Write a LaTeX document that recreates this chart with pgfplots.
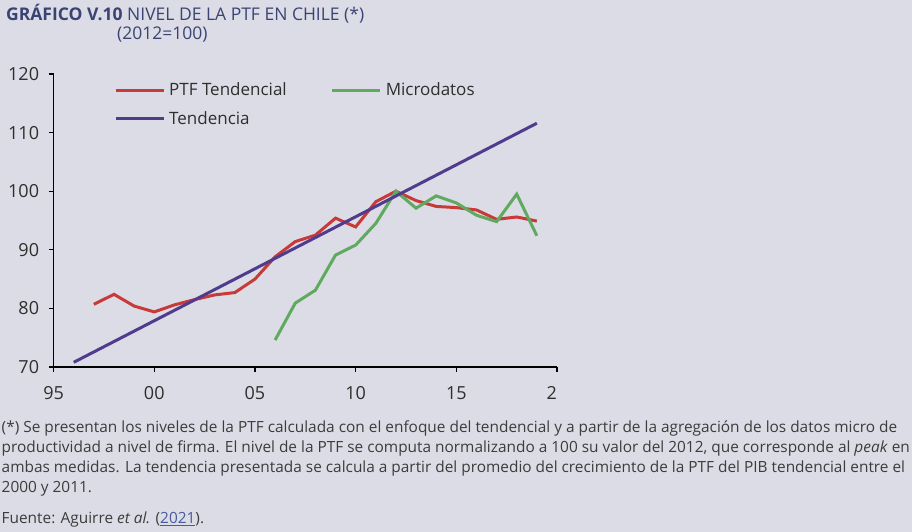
\documentclass[border=0pt]{standalone}
\usepackage{pgfplots}
\pgfplotsset{compat=1.18}
\usepackage{fontspec}
\setmainfont{Open Sans}

\definecolor{bg}{HTML}{DCDCE6}
\definecolor{ptfred}{HTML}{C83A3A}
\definecolor{microgreen}{HTML}{5FAA5F}
\definecolor{trendpurple}{HTML}{503C8C}
\definecolor{titleblue}{HTML}{3A4474}
\definecolor{textgray}{HTML}{2E2E2E}
\definecolor{notegray}{HTML}{3C3C3C}
\definecolor{linkblue}{HTML}{4A5A9C}

\newcommand{\ticksize}{\fontsize{18}{21}\selectfont}
\newcommand{\legsize}{\fontsize{17}{20}\selectfont}
\newcommand{\notesize}{\fontsize{15.4}{18}\selectfont}

\begin{document}
\begin{tikzpicture}
% page background and fixed frame
\fill[bg] (0pt,0pt) rectangle (912pt,-532pt);
\path[use as bounding box] (0pt,0pt) rectangle (912pt,-532pt);

% title
\node[anchor=base west, inner sep=0pt, text=titleblue] at (6pt,-20.3pt)
  {\fontsize{17.5}{20}\selectfont\textbf{GRÁFICO V.10} NIVEL DE LA PTF EN CHILE (*)};
\node[anchor=base west, inner sep=0pt, text=titleblue] at (117pt,-40pt)
  {\fontsize{17.5}{20}\selectfont (2012=100)};

\begin{axis}[
  at={(53.6pt,-367pt)}, anchor=south west,
  scale only axis, width=503.4pt, height=293pt,
  xmin=1995, xmax=2020, ymin=70, ymax=120,
  axis lines=left, axis line style={-, line width=1.1pt, black},
  xtick={1995,2000,2005,2010,2015,2020},
  xticklabels={95,00,05,10,15,2\phantom{0}},
  ytick={70,80,90,100,110,120},
  yticklabels={70,80,90,100,110,120},
  tick align=outside, major tick length=5pt,
  tick style={line width=1.1pt, black},
  ticklabel style={font=\ticksize, text=textgray},
  xticklabel style={yshift=-11pt},
  yticklabel style={xshift=-6pt},
  clip=false,
  legend columns=2,
  legend cell align=left,
  legend style={
    at={(axis cs:1998.0,118.7)}, anchor=north west,
    draw=none, fill=none, inner sep=0pt,
    font=\legsize, text=textgray,
    row sep=12pt,
    nodes={inner xsep=4pt, inner ysep=1pt},
    /tikz/every even column/.append style={column sep=40pt},
  },
  legend image code/.code={\draw[#1] (0pt,0pt) -- (48pt,0pt);},
  every axis plot/.append style={line width=3pt},
]
\addplot[ptfred] coordinates {
  (1997,80.7) (1998,82.4) (1999,80.4) (2000,79.4) (2001,80.6) (2002,81.5)
  (2003,82.3) (2004,82.7) (2005,85.0) (2006,88.8) (2007,91.4) (2008,92.5)
  (2009,95.4) (2010,93.9) (2011,98.2) (2012,100.0) (2013,98.4) (2014,97.4)
  (2015,97.2) (2016,96.8) (2017,95.2) (2018,95.6) (2019,94.9)
};
\addlegendentry{PTF Tendencial}
\addplot[microgreen] coordinates {
  (2006,74.6) (2007,80.9) (2008,83.1) (2009,89.1) (2010,90.8) (2011,94.5)
  (2012,100.0) (2013,97.1) (2014,99.2) (2015,98.0) (2016,95.9) (2017,94.8)
  (2018,99.5) (2019,92.4)
};
\addlegendentry{Microdatos}
\addplot[trendpurple] coordinates {(1996,70.8) (2019,111.6)};
\addlegendentry{Tendencia}
\end{axis}

% note and source
\begin{scope}[every node/.style={anchor=mid west, inner sep=0pt, text=notegray, font=\notesize}]
\node at (1.5pt,-430pt) {(*) Se presentan los niveles de la PTF calculada con el enfoque del tendencial y a partir de la agregación de los datos micro de};
\node at (1.5pt,-450pt) {productividad a nivel de firma. El nivel de la PTF se computa normalizando a 100 su valor del 2012, que corresponde al \textit{peak} en};
\node at (1.5pt,-470pt) {ambas medidas. La tendencia presentada se calcula a partir del promedio del crecimiento de la PTF del PIB tendencial entre el};
\node at (1.5pt,-490pt) {2000 y 2011.};
\node at (1.5pt,-521pt) {Fuente: Aguirre \textit{et al.} (\textcolor{linkblue}{\underline{2021}}).};
\end{scope}
\end{tikzpicture}
\end{document}
